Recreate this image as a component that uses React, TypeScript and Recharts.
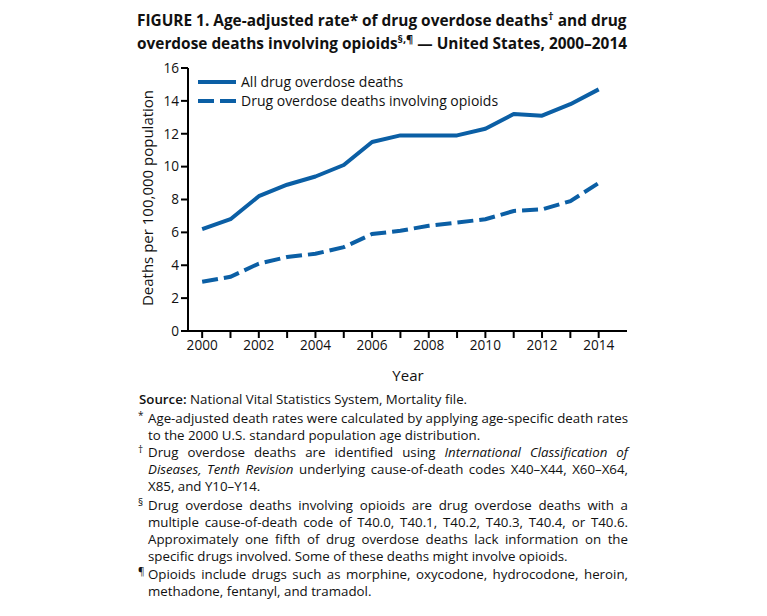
import { LineChart, Line, XAxis, YAxis } from 'recharts';

const years = [2000, 2001, 2002, 2003, 2004, 2005, 2006, 2007, 2008, 2009, 2010, 2011, 2012, 2013, 2014];
const allDeaths = [6.2, 6.8, 8.2, 8.9, 9.4, 10.1, 11.5, 11.9, 11.9, 11.9, 12.3, 13.2, 13.1, 13.8, 14.7];
const opioidDeaths = [3.0, 3.3, 4.1, 4.5, 4.7, 5.1, 5.9, 6.1, 6.4, 6.6, 6.8, 7.3, 7.4, 7.9, 9.0];
const yTicks = [0, 2, 4, 6, 8, 10, 12, 14, 16];
const seriesNames = ['All drug overdose deaths', 'Drug overdose deaths involving opioids'];

const data = years.map((year, i) => ({ year, all: allDeaths[i], opioids: opioidDeaths[i] }));

const BLUE = '#0b5fa5';
const FONT = '"Open Sans", "Noto Sans", sans-serif';

const tickStyle = { fontSize: 13.6, fill: '#111', fontFamily: FONT };

// one footnote: lines as they break in the original, all but the last set full width
function Note({ mark, lines, top }: { mark: string; lines: React.ReactNode[]; top: number }) {
  return (
    <div style={{ position: 'absolute', left: 138, top, width: 490, fontSize: 13.3, lineHeight: '17px', color: '#111' }}>
      <span style={{ position: 'absolute', left: 0, top: -2, fontSize: 10, lineHeight: '14px' }}>{mark}</span>
      <div style={{ marginLeft: 10 }}>
        {lines.map((l, i) => (
          <div
            key={i}
            style={{ whiteSpace: 'nowrap', textAlign: 'justify', textAlignLast: i < lines.length - 1 ? 'justify' : 'left' }}
          >
            {l}
          </div>
        ))}
      </div>
    </div>
  );
}

export default function App() {
  return (
    <div style={{ position: 'absolute', left: 0, top: 0, width: 767, height: 616, background: '#fff', fontFamily: FONT, color: '#111' }}>
      <div style={{ position: 'absolute', left: 137, top: 9, fontSize: 15.4, fontWeight: 700, lineHeight: '23px', whiteSpace: 'nowrap' }}>
        FIGURE 1. Age-adjusted rate* of drug overdose deaths<sup style={{ fontSize: 11, lineHeight: 0 }}>†</sup> and drug
        <br />
        overdose deaths involving opioids<sup style={{ fontSize: 11, lineHeight: 0 }}>§,¶</sup> — United States, 2000–2014
      </div>

      <div style={{ position: 'absolute', left: 0, top: 0 }}>
        <LineChart width={767} height={616} data={data} margin={{ top: 68, right: 140, bottom: 255, left: 148 }}>
          <XAxis
            dataKey="year"
            type="number"
            domain={[1999.5, 2015]}
            ticks={years}
            interval={0}
            tickFormatter={(v: number) => (v % 2 === 0 ? String(v) : '')}
            tick={tickStyle}
            tickLine={{ stroke: '#000', strokeWidth: 2 }}
            tickSize={7}
            axisLine={{ stroke: '#000', strokeWidth: 2 }}
            height={30}
          />
          <XAxis xAxisId="top" orientation="top" type="number" domain={[1999.5, 2015]} dataKey="year" tick={false} tickLine={false} axisLine={{ stroke: '#000', strokeWidth: 2 }} height={0} />
          <YAxis
            domain={[0, 16]}
            ticks={yTicks}
            interval={0}
            tick={tickStyle}
            tickLine={{ stroke: '#000', strokeWidth: 2 }}
            tickSize={7}
            axisLine={{ stroke: '#000', strokeWidth: 2 }}
            width={40}
          />
          <YAxis yAxisId="right" orientation="right" domain={[0, 16]} tick={false} tickLine={false} axisLine={{ stroke: '#000', strokeWidth: 2 }} width={0} />
          <Line dataKey="all" stroke={BLUE} strokeWidth={4} dot={false} isAnimationActive={false} strokeLinejoin="round" />
          <Line dataKey="opioids" stroke={BLUE} strokeWidth={4} strokeDasharray="16 6" dot={false} isAnimationActive={false} />
        </LineChart>
      </div>

      {/* legend inside plot, axis titles */}
      <svg style={{ position: 'absolute', left: 0, top: 0 }} width={767} height={616}>
        <line x1={198} x2={236} y1={82} y2={82} stroke={BLUE} strokeWidth={4} />
        <line x1={198} x2={236} y1={101} y2={101} stroke={BLUE} strokeWidth={4} strokeDasharray="16 6" />
        <text x={241} y={87} fontSize={14} fontFamily={FONT} fill="#111">{seriesNames[0]}</text>
        <text x={241} y={106} fontSize={14} fontFamily={FONT} fill="#111">{seriesNames[1]}</text>
        <text x={408} y={381} fontSize={15} fontFamily={FONT} fill="#111" textAnchor="middle">Year</text>
        <text x={153} y={198} fontSize={15} fontFamily={FONT} fill="#111" textAnchor="middle" transform="rotate(-90 153 198)">Deaths per 100,000 population</text>
      </svg>

      <div style={{ position: 'absolute', left: 139, top: 391, fontSize: 13.3, lineHeight: '17px', whiteSpace: 'nowrap' }}>
        <b style={{ fontWeight: 600 }}>Source:</b> National Vital Statistics System, Mortality file.
      </div>
      <Note
        mark="*"
        top={410}
        lines={[
          'Age-adjusted death rates were calculated by applying age-specific death rates',
          'to the 2000 U.S. standard population age distribution.',
        ]}
      />
      <Note
        mark="†"
        top={444}
        lines={[
          <>Drug overdose deaths are identified using <i>International Classification of</i></>,
          <><i>Diseases, Tenth Revision</i> underlying cause-of-death codes X40–X44, X60–X64,</>,
          'X85, and Y10–Y14.',
        ]}
      />
      <Note
        mark="§"
        top={497}
        lines={[
          'Drug overdose deaths involving opioids are drug overdose deaths with a',
          'multiple cause-of-death code of T40.0, T40.1, T40.2, T40.3, T40.4, or T40.6.',
          'Approximately one fifth of drug overdose deaths lack information on the',
          'specific drugs involved. Some of these deaths might involve opioids.',
        ]}
      />
      <Note
        mark="¶"
        top={566}
        lines={[
          'Opioids include drugs such as morphine, oxycodone, hydrocodone, heroin,',
          'methadone, fentanyl, and tramadol.',
        ]}
      />
    </div>
  );
}
